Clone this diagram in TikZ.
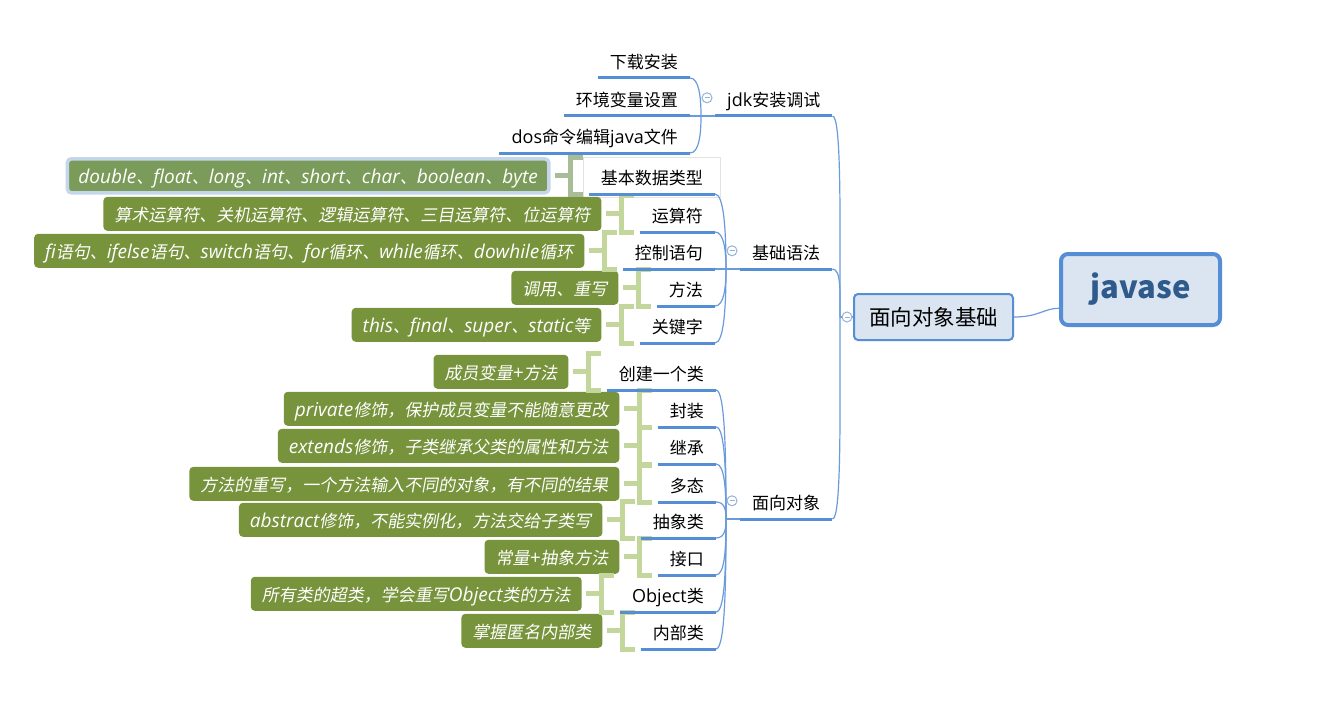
\documentclass[tikz,border=0pt]{standalone}
\usepackage{fontspec}
\setmainfont{Noto Sans CJK SC}
\newfontfamily\slfont[FakeSlant=0.18]{Noto Sans CJK SC}
\newfontfamily\latfont[Scale=1.06]{Open Sans}
\newfontfamily\latitfont[Scale=1.12]{Open Sans}
\newcommand\latup[1]{{\latfont #1}}
\newcommand\latit[1]{{\latitfont\itshape #1}}
\usetikzlibrary{calc,positioning}
\definecolor{ulblue}{HTML}{558ED5}
\definecolor{cnblue}{HTML}{6A9BDB}
\definecolor{boxfill}{HTML}{DBE5F1}
\definecolor{rootblue}{HTML}{2F5A8C}
\definecolor{leafgreen}{HTML}{77933C}
\definecolor{selgreen}{HTML}{7B9B5A}
\definecolor{brkgreen}{HTML}{C3D69B}
\definecolor{brkgray}{HTML}{A9BC98}
\definecolor{halo}{HTML}{C5D5EA}
\definecolor{collblue}{HTML}{95B3D7}
\definecolor{selgray}{HTML}{E3E3E3}
\tikzset{
 topic/.style={inner xsep=12pt, inner ysep=0pt, minimum height=36pt, text height=19.5pt, text depth=1.5pt, font=\fontsize{17}{20}\selectfont},
 uline/.style={ulblue, line width=3pt},
 conn/.style={cnblue, line width=1.2pt},
 leaf/.style={fill=leafgreen, text=white, rounded corners=4pt, inner xsep=11pt, inner ysep=0pt, minimum height=34pt, text height=18pt, text depth=2pt, font=\slfont\fontsize{17}{20}\selectfont},
 brk/.style={brkgreen, line width=5pt},
 brksel/.style={brkgray, line width=5pt},
 coll/.style={circle, draw=collblue, fill=white, line width=1pt, minimum size=10pt, inner sep=0pt},
}
\newcommand\mmconn[2]{\draw[conn] let \p1=(#1), \p2=(#2) in (\p1) .. controls (\x1+9pt,\y1) and (\x2,{0.5*(\y1+\y2)}) .. (\p2);}
\newcommand\mmbrk[3][brk]{%
 \draw[#1] ([xshift=-6pt]#2.north west) -- ([xshift=-18pt]#2.north west) -- ([xshift=-18pt]#2.south west) -- ([xshift=-6pt]#2.south west);
 \draw[#1] ([xshift=4pt]#3.east) -- ([xshift=-18pt]#2.west);}
\newcommand\mmul[1]{\draw[uline] (#1.south west) -- (#1.south east);}
\newcommand\mmcoll[2]{\node[coll] (#1) at #2 {}; \draw[collblue,line width=1pt] ([xshift=-2.5pt]#1.center) -- ([xshift=2.5pt]#1.center);}
\begin{document}
\begin{tikzpicture}[x=1pt,y=-1pt]
\useasboundingbox (0,0) rectangle (1330,706);
\fill[white] (0,0) rectangle (1330,706);
% root and main topic
\node[draw=ulblue, line width=4pt, fill=boxfill, rounded corners=7pt, minimum width=159pt, minimum height=71pt, text=rootblue, font=\bfseries\fontsize{31}{36}\selectfont] (root) at (1140.5,289.5) {javase};
\node[draw=ulblue, line width=2pt, fill=boxfill, rounded corners=4pt, minimum width=159pt, minimum height=46pt, font=\fontsize{21.5}{26}\selectfont] (mid) at (933.5,317) {面向对象基础};
% second level
\node[topic, anchor=south west] (jdk) at (715,116) {\latup{jdk}安装调试};
\node[topic, anchor=south west] (jc) at (740,269) {基础语法};
\node[topic, anchor=south west] (oo) at (740,519) {面向对象};
% jdk children
\node[topic, anchor=south east] (j1) at (690,78) {下载安装};
\node[topic, anchor=south east] (j2) at (690,116) {环境变量设置};
\node[topic, anchor=south east] (j3) at (690,153) {\latup{dos}命令编辑\latup{java}文件};
% syntax children
\node[topic, anchor=south east] (b1) at (715,194) {基本数据类型};
\draw[selgray] ([xshift=-5pt]b1.north west) rectangle ([shift={(5,3)}]b1.south east);
\node[topic, anchor=south east] (b2) at (715,232) {运算符};
\node[topic, anchor=south east] (b3) at (715,269) {控制语句};
\node[topic, anchor=south east] (b4) at (715,306) {方法};
\node[topic, anchor=south east] (b5) at (715,343) {关键字};
% OO children
\node[topic, anchor=south east] (o1) at (716,390) {创建一个类};
\node[topic, anchor=south east] (o2) at (716,427) {封装};
\node[topic, anchor=south east] (o3) at (716,464) {继承};
\node[topic, anchor=south east] (o4) at (716,502) {多态};
\node[topic, anchor=south east] (o5) at (716,538) {抽象类};
\node[topic, anchor=south east] (o6) at (716,575) {接口};
\node[topic, anchor=south east] (o7) at (716,612) {\latup{Object}类};
\node[topic, anchor=south east] (o8) at (716,649) {内部类};
% leaves
\node[leaf, fill=selgreen, draw=halo, line width=3.5pt, anchor=east] (gb1) at ([xshift=-38pt]b1.west) {\latit{double}、\latit{float}、\latit{long}、\latit{int}、\latit{short}、\latit{char}、\latit{boolean}、\latit{byte}};
\node[leaf, anchor=east] (gb2) at ([xshift=-38pt]b2.west) {算术运算符、关机运算符、逻辑运算符、三目运算符、位运算符};
\node[leaf, anchor=east] (gb3) at ([xshift=-38pt]b3.west) {\latit{fi}语句、\latit{ifelse}语句、\latit{switch}语句、\latit{for}循环、\latit{while}循环、\latit{dowhile}循环};
\node[leaf, anchor=east] (gb4) at ([xshift=-38pt]b4.west) {调用、重写};
\node[leaf, anchor=east] (gb5) at ([xshift=-38pt]b5.west) {\latit{this}、\latit{final}、\latit{super}、\latit{static}等};
\node[leaf, anchor=east] (go1) at ([xshift=-38pt]o1.west) {成员变量\latit{+}方法};
\node[leaf, anchor=east] (go2) at ([xshift=-38pt]o2.west) {\latit{private}修饰，保护成员变量不能随意更改};
\node[leaf, anchor=east] (go3) at ([xshift=-38pt]o3.west) {\latit{extends}修饰，子类继承父类的属性和方法};
\node[leaf, anchor=east] (go4) at ([xshift=-38pt]o4.west) {方法的重写，一个方法输入不同的对象，有不同的结果};
\node[leaf, anchor=east] (go5) at ([xshift=-38pt]o5.west) {\latit{abstract}修饰，不能实例化，方法交给子类写};
\node[leaf, anchor=east] (go6) at ([xshift=-38pt]o6.west) {常量\latit{+}抽象方法};
\node[leaf, anchor=east] (go7) at ([xshift=-38pt]o7.west) {所有类的超类，学会重写\latit{Object}类的方法};
\node[leaf, anchor=east] (go8) at ([xshift=-38pt]o8.west) {掌握匿名内部类};
% brackets
\mmbrk[brksel]{b1}{gb1}
\mmbrk{b2}{gb2}
\mmbrk{b3}{gb3}
\mmbrk{b4}{gb4}
\mmbrk{b5}{gb5}
\mmbrk{o1}{go1}
\mmbrk{o2}{go2}
\mmbrk{o3}{go3}
\mmbrk{o4}{go4}
\mmbrk{o5}{go5}
\mmbrk{o6}{go6}
\mmbrk{o7}{go7}
\mmbrk{o8}{go8}
% convergence points
\coordinate (jdkc) at ([xshift=-14pt]jdk.south west);
\coordinate (jcc) at ([xshift=-14pt]jc.south west);
\coordinate (ooc) at ([xshift=-14pt]oo.south west);
\coordinate (midc) at ([xshift=-13pt]mid.west);
\coordinate (rootin) at ($(root.south west)!0.25!(root.north west)$);
% connectors
\draw[conn] (mid.east) .. controls +(25,0) and +(-15,0) .. (rootin);
\foreach \c in {jdk,jc,oo} {\mmconn{\c.south east}{midc}}
\draw[conn] (midc) -- (mid.west);
\foreach \c in {j1,j2,j3} {\mmconn{\c.south east}{jdkc}}
\draw[conn] (jdkc) -- (jdk.south west);
\foreach \c in {b1,b2,b3,b4,b5} {\mmconn{\c.south east}{jcc}}
\draw[conn] (jcc) -- (jc.south west);
\foreach \c in {o1,o2,o3,o4,o5,o6,o7,o8} {\mmconn{\c.south east}{ooc}}
\draw[conn] (ooc) -- (oo.south west);
% underlines
\foreach \c in {jdk,jc,oo,j1,j2,j3,b1,b2,b3,b4,b5,o1,o2,o3,o4,o5,o6,o7,o8} {\mmul{\c}}
% collapse markers
\mmcoll{cjdk}{([xshift=-8pt]jdk.west)}
\mmcoll{cjc}{([xshift=-8pt]jc.west)}
\mmcoll{coo}{([xshift=-8pt]oo.west)}
\mmcoll{cmid}{([xshift=-6pt]mid.west)}
\end{tikzpicture}
\end{document}
